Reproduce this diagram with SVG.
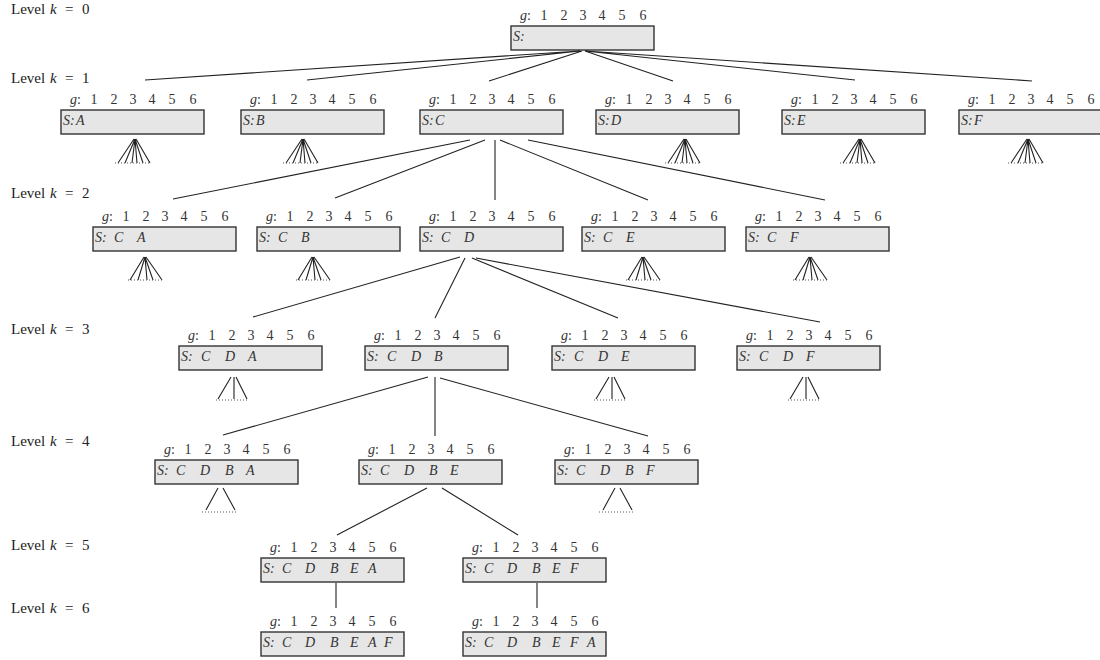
<svg xmlns="http://www.w3.org/2000/svg" width="1100" height="660" viewBox="0 0 1100 660" font-family="'Liberation Serif', 'Times New Roman', serif">
<defs>
<style>
.bg{fill:#ffffff}
.box{fill:#e6e6e6;stroke:#333333;stroke-width:1.4}
.gl{font-size:14px;fill:#333333}
.it{font-style:italic}
.s{font-size:14px;font-style:italic;fill:#333333}
.lvl{font-size:15px;fill:#222222}
.ln{stroke:#222222;stroke-width:1.1;fill:none}
.dot{stroke:#555555;stroke-width:1;stroke-dasharray:1 2;fill:none}
</style>
<g id="glab">
<text class="gl" y="-6"><tspan x="9" class="it">g</tspan><tspan>:</tspan><tspan x="29.5">1</tspan><tspan x="49.5">2</tspan><tspan x="68.5">3</tspan><tspan x="87.5">4</tspan><tspan x="107.5">5</tspan><tspan x="128.5">6</tspan></text>
<rect class="box" x="0" y="0" width="143" height="24"/>
</g>
<g id="fan6" class="ln">
<path d="M-1 0L-17 24M0 0L-10 24M0 0L-3 24M0 0L2 24M0 0L8 24M1 0L15 24"/>
</g>
<g id="fan5" class="ln">
<path d="M-1 0L-15 23M0 0L-7 23M0 0L2 23M0 0L8 23M1 0L17 23"/>
</g>
<g id="fan3" class="ln">
<path d="M-3 0L-16 22M0 0L0 22M2 0L13 22"/>
</g>
<g id="fan2" class="ln">
<path d="M-3 0L-15 22M2 0L14 22"/>
</g>
</defs>
<rect class="bg" x="0" y="0" width="1100" height="660"/>

<g id="levels">
<text class="lvl" y="14"><tspan x="11">Level</tspan><tspan x="50" class="it">k</tspan><tspan x="65">=</tspan><tspan x="82">0</tspan></text>
<text class="lvl" y="83"><tspan x="11">Level</tspan><tspan x="50" class="it">k</tspan><tspan x="65">=</tspan><tspan x="82">1</tspan></text>
<text class="lvl" y="198"><tspan x="11">Level</tspan><tspan x="50" class="it">k</tspan><tspan x="65">=</tspan><tspan x="82">2</tspan></text>
<text class="lvl" y="334"><tspan x="11">Level</tspan><tspan x="50" class="it">k</tspan><tspan x="65">=</tspan><tspan x="82">3</tspan></text>
<text class="lvl" y="446"><tspan x="11">Level</tspan><tspan x="50" class="it">k</tspan><tspan x="65">=</tspan><tspan x="82">4</tspan></text>
<text class="lvl" y="550"><tspan x="11">Level</tspan><tspan x="50" class="it">k</tspan><tspan x="65">=</tspan><tspan x="82">5</tspan></text>
<text class="lvl" y="613"><tspan x="11">Level</tspan><tspan x="50" class="it">k</tspan><tspan x="65">=</tspan><tspan x="82">6</tspan></text>
</g>

<g id="connectors" class="ln">
<path d="M580 51L145 80M580 51L307 80M582 51L489 81M585 51L673 81M585 51L855 80M585 51L1032 81"/>
<path d="M470 140L173 199M485 140L335 198M495 140L495 200M500 140L648 200M528 140L825 200"/>
<path d="M460 257L253 317M465 258L435 318M472 258L618 318M476 258L820 322"/>
<path d="M428 377L223 435M435 377L435 436M440 378L648 436"/>
<path d="M427 488L337 535M442 488L518 535"/>
<path d="M336 583L336 608M537 583L537 608"/>
</g>

<g id="stubs">
<use href="#fan6" x="135" y="139"/><path class="dot" d="M115 163H151"/>
<use href="#fan6" x="303" y="139"/><path class="dot" d="M283 163H319"/>
<use href="#fan6" x="685" y="139"/><path class="dot" d="M665 163H701"/>
<use href="#fan6" x="860" y="139"/><path class="dot" d="M840 163H876"/>
<use href="#fan6" x="1028" y="139"/><path class="dot" d="M1008 163H1044"/>
<use href="#fan5" x="145" y="257"/><path class="dot" d="M128 280H163"/>
<use href="#fan5" x="313" y="257"/><path class="dot" d="M296 280H331"/>
<use href="#fan5" x="643" y="257"/><path class="dot" d="M626 280H661"/>
<use href="#fan5" x="810" y="257"/><path class="dot" d="M793 280H828"/>
<use href="#fan3" x="234" y="377"/><path class="dot" d="M216 400H249"/>
<use href="#fan3" x="612" y="377"/><path class="dot" d="M594 400H627"/>
<use href="#fan3" x="806" y="377"/><path class="dot" d="M788 400H821"/>
<use href="#fan2" x="221" y="488"/><path class="dot" d="M202 512H237"/>
<use href="#fan2" x="618" y="488"/><path class="dot" d="M599 512H634"/>
</g>

<g id="n-root" transform="translate(511,26)"><use href="#glab"/><text class="s" y="15"><tspan x="2">S</tspan><tspan>:</tspan></text></g>

<g id="n-A" transform="translate(61,110)"><use href="#glab"/><text class="s" y="15"><tspan x="2">S</tspan><tspan>:</tspan><tspan x="15">A</tspan></text></g>
<g id="n-B" transform="translate(241,110)"><use href="#glab"/><text class="s" y="15"><tspan x="2">S</tspan><tspan>:</tspan><tspan x="15">B</tspan></text></g>
<g id="n-C" transform="translate(420,110)"><use href="#glab"/><text class="s" y="15"><tspan x="2">S</tspan><tspan>:</tspan><tspan x="15">C</tspan></text></g>
<g id="n-D" transform="translate(596,110)"><use href="#glab"/><text class="s" y="15"><tspan x="2">S</tspan><tspan>:</tspan><tspan x="15">D</tspan></text></g>
<g id="n-E" transform="translate(782,110)"><use href="#glab"/><text class="s" y="15"><tspan x="2">S</tspan><tspan>:</tspan><tspan x="15">E</tspan></text></g>
<g id="n-F" transform="translate(959,110)"><use href="#glab"/><text class="s" y="15"><tspan x="2">S</tspan><tspan>:</tspan><tspan x="15">F</tspan></text></g>

<g id="n-CA" transform="translate(93,227)"><use href="#glab"/><text class="s" y="15"><tspan x="2">S</tspan><tspan>:</tspan><tspan x="21">C</tspan><tspan x="44">A</tspan></text></g>
<g id="n-CB" transform="translate(257,227)"><use href="#glab"/><text class="s" y="15"><tspan x="2">S</tspan><tspan>:</tspan><tspan x="21">C</tspan><tspan x="44">B</tspan></text></g>
<g id="n-CD" transform="translate(420,227)"><use href="#glab"/><text class="s" y="15"><tspan x="2">S</tspan><tspan>:</tspan><tspan x="21">C</tspan><tspan x="44">D</tspan></text></g>
<g id="n-CE" transform="translate(582,227)"><use href="#glab"/><text class="s" y="15"><tspan x="2">S</tspan><tspan>:</tspan><tspan x="21">C</tspan><tspan x="44">E</tspan></text></g>
<g id="n-CF" transform="translate(746,227)"><use href="#glab"/><text class="s" y="15"><tspan x="2">S</tspan><tspan>:</tspan><tspan x="21">C</tspan><tspan x="44">F</tspan></text></g>

<g id="n-CDA" transform="translate(179,346)"><use href="#glab"/><text class="s" y="15"><tspan x="2">S</tspan><tspan>:</tspan><tspan x="22">C</tspan><tspan x="46">D</tspan><tspan x="69">A</tspan></text></g>
<g id="n-CDB" transform="translate(365,346)"><use href="#glab"/><text class="s" y="15"><tspan x="2">S</tspan><tspan>:</tspan><tspan x="22">C</tspan><tspan x="46">D</tspan><tspan x="69">B</tspan></text></g>
<g id="n-CDE" transform="translate(552,346)"><use href="#glab"/><text class="s" y="15"><tspan x="2">S</tspan><tspan>:</tspan><tspan x="22">C</tspan><tspan x="46">D</tspan><tspan x="69">E</tspan></text></g>
<g id="n-CDF" transform="translate(737,346)"><use href="#glab"/><text class="s" y="15"><tspan x="2">S</tspan><tspan>:</tspan><tspan x="22">C</tspan><tspan x="46">D</tspan><tspan x="69">F</tspan></text></g>

<g id="n-CDBA" transform="translate(155,460)"><use href="#glab"/><text class="s" y="15"><tspan x="2">S</tspan><tspan>:</tspan><tspan x="21">C</tspan><tspan x="45">D</tspan><tspan x="70">B</tspan><tspan x="91">A</tspan></text></g>
<g id="n-CDBE" transform="translate(359,460)"><use href="#glab"/><text class="s" y="15"><tspan x="2">S</tspan><tspan>:</tspan><tspan x="21">C</tspan><tspan x="45">D</tspan><tspan x="70">B</tspan><tspan x="91">E</tspan></text></g>
<g id="n-CDBF" transform="translate(555,460)"><use href="#glab"/><text class="s" y="15"><tspan x="2">S</tspan><tspan>:</tspan><tspan x="21">C</tspan><tspan x="45">D</tspan><tspan x="70">B</tspan><tspan x="91">F</tspan></text></g>

<g id="n-CDBEA" transform="translate(261,558)"><use href="#glab"/><text class="s" y="15"><tspan x="2">S</tspan><tspan>:</tspan><tspan x="21">C</tspan><tspan x="44">D</tspan><tspan x="69">B</tspan><tspan x="89">E</tspan><tspan x="107">A</tspan></text></g>
<g id="n-CDBEF" transform="translate(463,558)"><use href="#glab"/><text class="s" y="15"><tspan x="2">S</tspan><tspan>:</tspan><tspan x="21">C</tspan><tspan x="44">D</tspan><tspan x="69">B</tspan><tspan x="89">E</tspan><tspan x="107">F</tspan></text></g>

<g id="n-CDBEAF" transform="translate(261,632)"><use href="#glab"/><text class="s" y="15"><tspan x="2">S</tspan><tspan>:</tspan><tspan x="21">C</tspan><tspan x="44">D</tspan><tspan x="69">B</tspan><tspan x="89">E</tspan><tspan x="107">A</tspan><tspan x="123">F</tspan></text></g>
<g id="n-CDBEFA" transform="translate(463,632)"><use href="#glab"/><text class="s" y="15"><tspan x="2">S</tspan><tspan>:</tspan><tspan x="21">C</tspan><tspan x="44">D</tspan><tspan x="69">B</tspan><tspan x="89">E</tspan><tspan x="107">F</tspan><tspan x="124">A</tspan></text></g>
</svg>
